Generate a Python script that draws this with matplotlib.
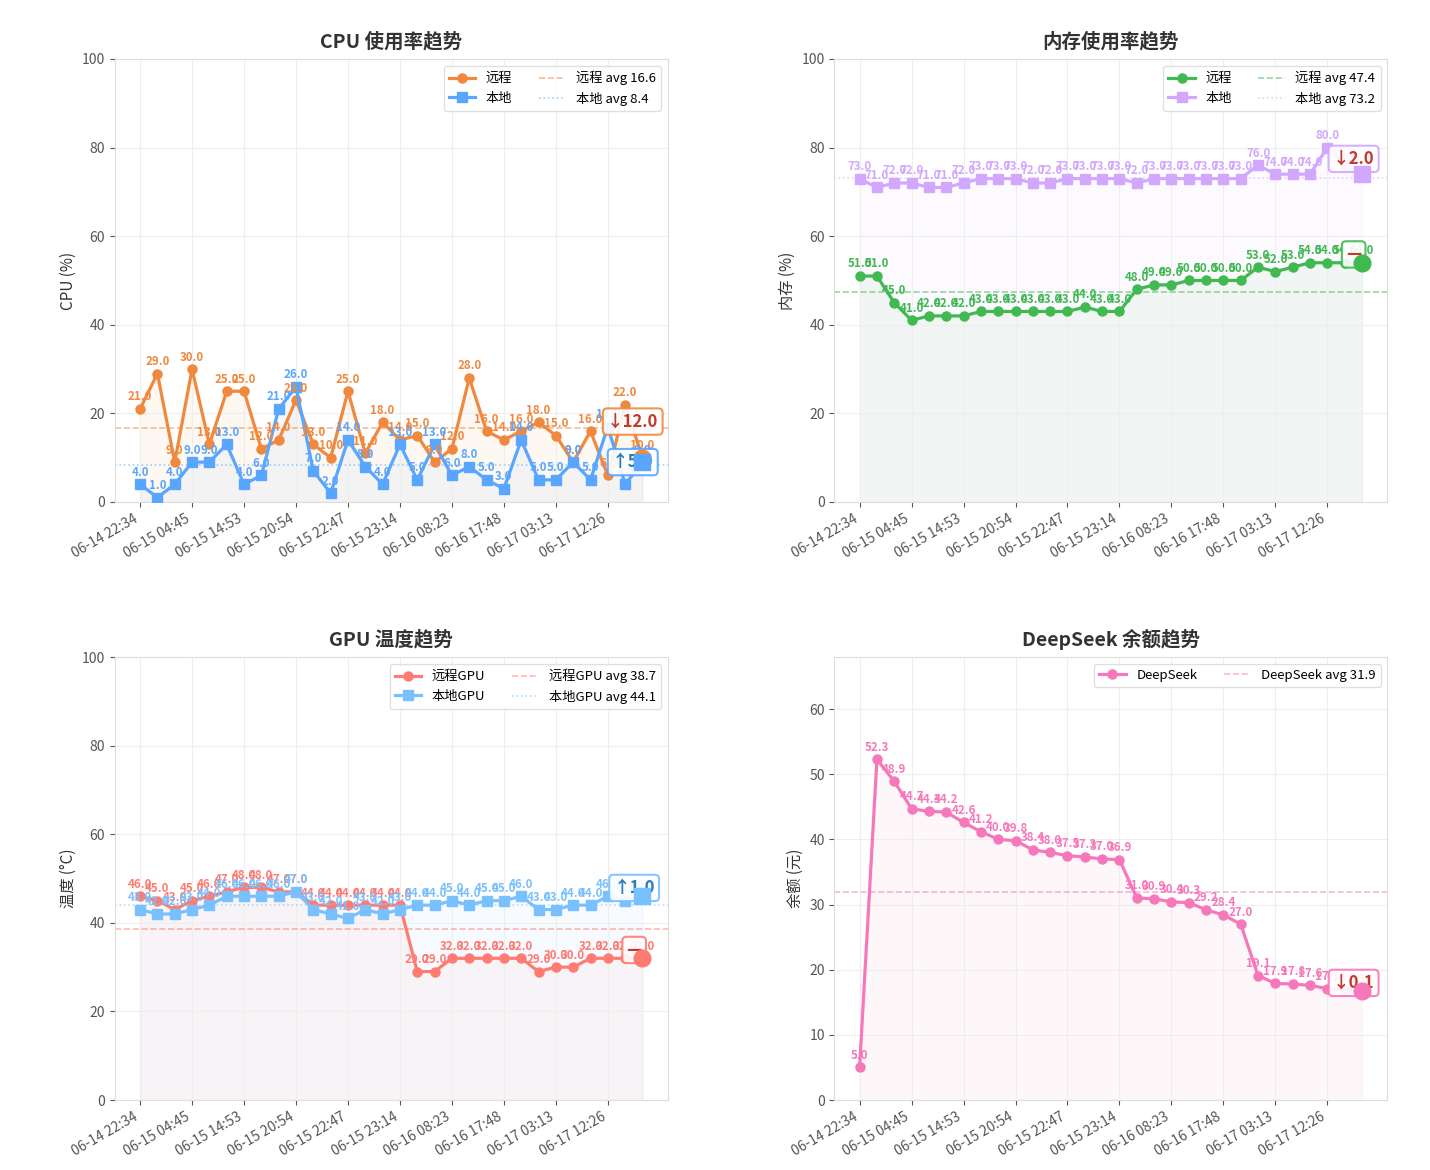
import numpy as np
import matplotlib
matplotlib.use('Agg')
import matplotlib.pyplot as plt

plt.rcParams['font.family'] = ['Noto Sans CJK SC', 'DejaVu Sans']
plt.rcParams['axes.unicode_minus'] = False

# x axis labels (every 3rd sample)
tick_labels = ['06-14 22:34', '06-15 04:45', '06-15 14:53', '06-15 20:54', '06-15 22:47',
               '06-15 23:14', '06-16 08:23', '06-16 17:48', '06-17 03:13', '06-17 12:26']

cpu_remote = [21, 29, 9, 30, 13, 25, 25, 12, 14, 23, 13, 10, 25, 11, 18,
              14, 15, 9, 12, 28, 16, 14, 16, 18, 15, 9, 16, 6, 22, 10]
cpu_local = [4, 1, 4, 9, 9, 13, 4, 6, 21, 26, 7, 2, 14, 8, 4,
             13, 5, 13, 6, 8, 5, 3, 14, 5, 5, 9, 5, 17, 4, 9]

mem_remote = [51, 51, 45, 41, 42, 42, 42, 43, 43, 43, 43, 43, 43, 44, 43,
              43, 48, 49, 49, 50, 50, 50, 50, 53, 52, 53, 54, 54, 54, 54]
mem_local = [73, 71, 72, 72, 71, 71, 72, 73, 73, 73, 72, 72, 73, 73, 73,
             73, 72, 73, 73, 73, 73, 73, 73, 76, 74, 74, 74, 80, 76, 74]

gpu_remote = [46, 45, 43, 45, 46, 47, 48, 48, 47, 47, 44, 44, 44, 44, 44,
              44, 29, 29, 32, 32, 32, 32, 32, 29, 30, 30, 32, 32, 32, 32]
gpu_local = [43, 42, 42, 43, 44, 46, 46, 46, 46, 47, 43, 42, 41, 43, 42,
             43, 44, 44, 45, 44, 45, 45, 46, 43, 43, 44, 44, 46, 45, 46]

deepseek = [5.0, 52.3, 48.9, 44.7, 44.3, 44.2, 42.6, 41.2, 40.0, 39.8,
            38.4, 38.0, 37.5, 37.3, 37.0, 36.9, 31.0, 30.9, 30.4, 30.3,
            29.2, 28.4, 27.0, 19.1, 17.9, 17.8, 17.6, 17.1, 16.8, 16.7]

UP = '#2b7bb9'
DOWN = '#c0392b'


def change_text(vals):
    d = vals[-1] - vals[-2]
    if abs(d) < 0.05:
        return '—', DOWN
    if d > 0:
        return '↑%.1f' % d, UP
    return '↓%.1f' % abs(d), DOWN


def draw(ax, title, ylabel, series, ylim=(0, 100), offsets=None):
    x = np.arange(len(series[0][1]))
    handles, avg_handles = [], []
    for i, (name, vals, color, marker, avg_ls) in enumerate(series):
        vals = np.array(vals, dtype=float)
        line, = ax.plot(x, vals, color=color, marker=marker, lw=2.3, ms=6.5,
                        label=name, zorder=3)
        ax.fill_between(x, vals, 0, color=color, alpha=0.06, zorder=1)
        # big marker on the latest sample, drawn over the change box
        ax.plot(x[-1], vals[-1], marker=marker, color=color, ms=12, zorder=8)
        avg = vals.mean()
        al = ax.axhline(avg, color=color, ls=avg_ls, lw=1.2, alpha=0.55,
                        label='%s avg %.1f' % (name, avg), zorder=2)
        handles.append(line)
        avg_handles.append(al)
        for xi, v in zip(x, vals):
            ax.annotate('%.1f' % v, (xi, v), xytext=(0, 4), textcoords='offset points',
                        ha='center', va='bottom', fontsize=8.3, fontweight='bold',
                        color=color, zorder=5)
        txt, tc = change_text(vals)
        off = offsets[i] if offsets else (-6, 6)
        ax.annotate(txt, (x[-1], vals[-1]), xytext=off, textcoords='offset points',
                    ha='center', va='center', fontsize=12, fontweight='bold', color=tc,
                    bbox=dict(boxstyle='round,pad=0.25', fc='white', ec=color, lw=1.5, alpha=0.9),
                    zorder=6)

    ax.set_title(title, fontsize=14, fontweight='bold', color='#333333', pad=8)
    ax.set_ylabel(ylabel, fontsize=11, color='#333333')
    ax.set_ylim(*ylim)
    ax.set_xticks(x[::3])
    ax.set_xticklabels(tick_labels, rotation=30, ha='right', fontsize=10, color='#555555')
    ax.tick_params(axis='y', labelsize=10, labelcolor='#555555')
    ax.tick_params(colors='#555555')
    ax.grid(True, color='#eeeeee', lw=0.8, zorder=0)
    for s in ax.spines.values():
        s.set_color('#dddddd')
    ax.legend(handles=handles + avg_handles, ncol=2, loc='upper right', fontsize=9.5,
              framealpha=0.9, edgecolor='#dddddd')


fig, axes = plt.subplots(2, 2, figsize=(14.3, 11.7), dpi=100)
fig.subplots_adjust(left=0.0804, right=0.970, top=0.9496, bottom=0.0598,
                    wspace=0.302, hspace=0.35)

draw(axes[0, 0], 'CPU 使用率趋势', 'CPU (%)',
     [('远程', cpu_remote, '#f0883e', 'o', '--'),
      ('本地', cpu_local, '#58a6ff', 's', ':')],
     offsets=[(-7, 26), (-7, 0)])
draw(axes[0, 1], '内存使用率趋势', '内存 (%)',
     [('远程', mem_remote, '#3fb950', 'o', '--'),
      ('本地', mem_local, '#d2a8ff', 's', ':')],
     offsets=[(-6, 6), (-6, 11)])
draw(axes[1, 0], 'GPU 温度趋势', '温度 (°C)',
     [('远程GPU', gpu_remote, '#ff7b72', 'o', '--'),
      ('本地GPU', gpu_local, '#79c0ff', 's', ':')],
     offsets=[(-6, 6), (-6, 6)])
draw(axes[1, 1], 'DeepSeek 余额趋势', '余额 (元)',
     [('DeepSeek', deepseek, '#f778ba', 'o', '--')],
     ylim=(0, max(deepseek) * 1.3), offsets=[(-6, 6)])

fig.savefig('out.png', dpi=100)
